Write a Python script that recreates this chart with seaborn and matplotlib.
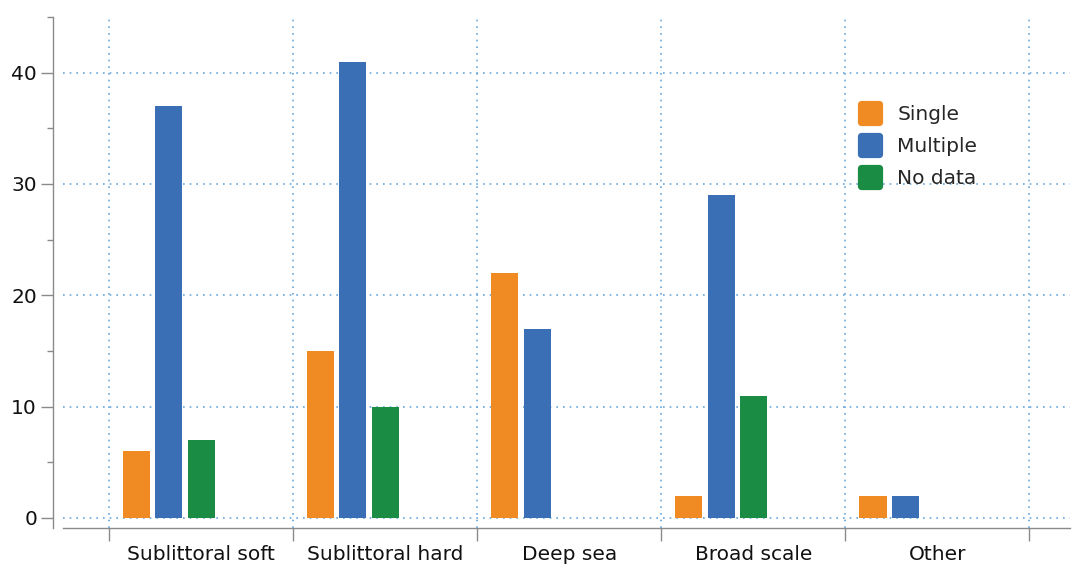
import numpy as np
import pandas as pd
import matplotlib
matplotlib.use("Agg")
import matplotlib.pyplot as plt
from matplotlib.lines import Line2D
from matplotlib.markers import MarkerStyle
import seaborn as sns

# Data
categories = ["Sublittoral soft", "Sublittoral hard", "Deep sea", "Broad scale", "Other"]
single = [6, 15, 22, 2, 2]
multiple = [37, 41, 17, 29, 2]
no_data = [7, 10, None, 11, None]

series_names = ["Single", "Multiple", "No data"]
colors = {"Single": "#f08a22", "Multiple": "#3a6eb5", "No data": "#1b8c44"}

# Two empty hue slots keep the bars in the left part of each category
pad_levels = [" ", "  "]

rows = []
for name, vals in zip(series_names, [single, multiple, no_data]):
    for cat, v in zip(categories, vals):
        if v is not None:
            rows.append({"category": cat, "series": name, "count": v})
df = pd.DataFrame(rows)

sns.set_style("white")
plt.rcParams["font.family"] = ["DejaVu Sans"]
fs = 14.5

fig = plt.figure(figsize=(10.72, 5.65), dpi=100)
ax = fig.add_axes([63 / 1072, 37 / 565, 1007 / 1072, 511 / 565])

palette = dict(colors)
palette.update({lvl: "white" for lvl in pad_levels})

sns.barplot(
    data=df, x="category", y="count", hue="series",
    order=categories, hue_order=series_names + pad_levels,
    palette=palette, saturation=1, width=0.875, gap=0.16, errorbar=None,
    linewidth=0, legend=False, ax=ax,
)

ax.set_xlim(-0.75, 4.72)
ax.set_ylim(-0.9, 45)
ax.set_xlabel("")
ax.set_ylabel("")

# y ticks
ax.set_yticks([0, 10, 20, 30, 40])
ax.set_yticks([5, 15, 25, 35, 45], minor=True)
# x ticks: labels at centres, marks at category boundaries
ax.set_xticks(range(len(categories)))
ax.set_xticklabels(categories)
ax.set_xticks(np.arange(len(categories) + 1) - 0.5, minor=True)

spine_color = "#8a8a8a"
for side in ["top", "right"]:
    ax.spines[side].set_visible(False)
ax.spines["left"].set_position(("outward", 7.2))
for side in ["left", "bottom"]:
    ax.spines[side].set_color(spine_color)
    ax.spines[side].set_linewidth(1.0)

ax.tick_params(axis="y", which="both", left=True)
ax.tick_params(axis="x", which="both", bottom=True)
ax.tick_params(axis="y", which="major", length=9, width=1, color=spine_color,
               labelsize=fs, labelcolor="#111111", pad=2.5)
ax.tick_params(axis="y", which="minor", length=4.5, width=1, color=spine_color)
ax.tick_params(axis="x", which="major", length=0, labelsize=fs,
               labelcolor="#111111", pad=12)
ax.tick_params(axis="x", which="minor", length=9, width=1, color=spine_color)

grid_kw = dict(color="#6aa6dc", linewidth=1.2, linestyle=(0, (1, 3)))
ax.yaxis.grid(True, which="major", **grid_kw)
ax.xaxis.grid(True, which="minor", **grid_kw)
ax.xaxis.grid(False, which="major")
ax.set_axisbelow(True)

# Legend with rounded square swatches
rounded = MarkerStyle("s", joinstyle="round")
handles = [
    Line2D([], [], linestyle="none", marker=rounded, markersize=13.5,
           markerfacecolor=colors[n], markeredgecolor=colors[n],
           markeredgewidth=5.2, label=n)
    for n in series_names
]
ax.legend(handles=handles, loc="upper left",
          bbox_to_anchor=((857 - 63) / 1007, (528 - 105) / 511),
          frameon=False, fontsize=fs, borderpad=0, borderaxespad=0,
          handlelength=1.3, handletextpad=0.7, labelspacing=0.64)

fig.savefig("out.png", dpi=100)
